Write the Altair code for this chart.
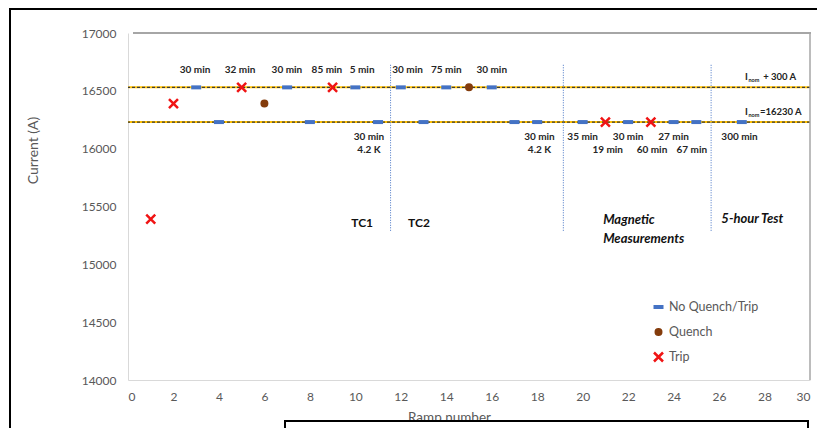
import altair as alt
import pandas as pd

# ---------------- data ----------------
ramp = [1, 2, 3, 4, 5, 6, 7, 8, 9, 10, 11, 12, 13, 14, 15, 16, 17, 18,
        20, 21, 22, 23, 24, 25, 27]
current = [15390, 16390, 16530, 16230, 16530, 16390, 16530, 16230, 16530, 16530,
           16230, 16530, 16230, 16530, 16530, 16530, 16230, 16230,
           16230, 16230, 16230, 16230, 16230, 16230, 16230]
status = ["Trip", "Trip", "No Quench/Trip", "No Quench/Trip", "Trip", "Quench",
          "No Quench/Trip", "No Quench/Trip", "Trip", "No Quench/Trip",
          "No Quench/Trip", "No Quench/Trip", "No Quench/Trip", "No Quench/Trip",
          "Quench", "No Quench/Trip", "No Quench/Trip", "No Quench/Trip",
          "No Quench/Trip", "Trip", "No Quench/Trip", "Trip", "No Quench/Trip",
          "No Quench/Trip", "No Quench/Trip"]

status_domain = ["No Quench/Trip", "Quench", "Trip"]

nominal_levels = [16530, 16230]

divider_x = [11.55, 19.15, 25.65]
divider_top = [16725, 16725, 16725]
divider_bottom = [15280, 15280, 15280]

upper_label_x = [2.95, 4.93, 6.99, 8.75, 10.3, 12.3, 14.0, 16.0]
upper_label_y = [16680] * 8
upper_label_text = ["30 min", "32 min", "30 min", "85 min", "5 min",
                    "30 min", "75 min", "30 min"]

lower1_label_x = [10.6, 18.1, 20.0, 22.0, 24.0, 26.9]
lower1_label_y = [16105] * 6
lower1_label_text = ["30 min", "30 min", "35 min", "30 min", "27 min", "300 min"]

lower2_label_x = [10.6, 18.1, 21.1, 23.05, 24.8]
lower2_label_y = [15990] * 5
lower2_label_text = ["4.2 K", "4.2 K", "19 min", "60 min", "67 min"]

section_x = [10.3, 12.8]
section_y = [15355, 15355]
section_text = ["TC1", "TC2"]

italic_x = [20.9, 20.9, 26.1]
italic_y = [15380, 15215, 15390]
italic_text = ["Magnetic", "Measurements", "5-hour Test"]

inom_x = [27.14, 27.14]
inom_y = [16619, 16317]
inom_rest_x = [27.94, 27.8]
inom_rest_text = ["+ 300 A", "=16230 A"]

x_ticks = list(range(0, 31, 2))
y_ticks = list(range(14000, 17001, 500))

# ---------------- styling helpers ----------------
FONT = "Lato"
GRAY = "#595959"

xscale = alt.Scale(domain=[0, 30], nice=False, zero=False)
yscale = alt.Scale(domain=[14000, 17000], nice=False, zero=False)

xaxis = alt.Axis(values=x_ticks, grid=False, ticks=False, domainColor="#d9d9d9",
                 labelColor=GRAY, labelFont=FONT, labelFontSize=12, labelPadding=11,
                 titleColor=GRAY, titleFont=FONT, titleFontSize=13.5,
                 titleFontWeight="normal", titleX=321, titleY=37,
                 titleBaseline="middle")
yaxis = alt.Axis(values=y_ticks, grid=False, ticks=False, domainColor="#d9d9d9",
                 format="d", labelColor=GRAY, labelFont=FONT, labelFontSize=12,
                 labelPadding=12, titleColor=GRAY, titleFont=FONT, titleFontSize=14,
                 titleFontWeight="normal", titleX=-95, titleY=117,
                 titleBaseline="middle")


def X(field):
    return alt.X(field, type="quantitative", scale=xscale, axis=xaxis, title="Ramp number")


def Y(field):
    return alt.Y(field, type="quantitative", scale=yscale, axis=yaxis, title="Current (A)")


# ---------------- layers ----------------
levels_df = pd.DataFrame({"level": nominal_levels})
hl_base = alt.Chart(levels_df).mark_rule(color="#FFC000", strokeWidth=2).encode(y=Y("level"))
hl_dash = alt.Chart(levels_df).mark_rule(color="#3a3a3a", strokeWidth=1.3,
                                         strokeDash=[3, 2]).encode(y=Y("level"))

div_df = pd.DataFrame({"x": divider_x, "top": divider_top, "bottom": divider_bottom})
dividers = alt.Chart(div_df).mark_rule(color="#4472C4", strokeWidth=1,
                                       strokeDash=[1, 1.5]).encode(
    x=X("x"), y=Y("top"), y2="bottom")

pts_df = pd.DataFrame({"ramp": ramp, "current": current, "status": status})
# shapes are drawn with a 2.5px outline of the same colour, so paths are shrunk
dash_path = "M-0.75,-0.15L0.75,-0.15L0.75,0.15L-0.75,0.15Z"
circle_path = "M0.55,0A0.55,0.55 0 1,1 -0.55,0A0.55,0.55 0 1,1 0.55,0Z"
x_path = "M-0.9,-0.9L0.9,0.9M-0.9,0.9L0.9,-0.9"
colors = ["#4472C4", "#843C0C", "#F01414"]
shapes = [dash_path, circle_path, x_path]

points = alt.Chart(pts_df).mark_point(filled=True, opacity=1, size=100,
                                      strokeWidth=2.5, strokeOpacity=1).encode(
    x=X("ramp"), y=Y("current"),
    fill=alt.Fill("status:N", scale=alt.Scale(domain=status_domain, range=colors),
                  title=None),
    stroke=alt.Stroke("status:N", scale=alt.Scale(domain=status_domain, range=colors),
                      title=None),
    shape=alt.Shape("status:N", scale=alt.Scale(domain=status_domain, range=shapes),
                    title=None),
)


def text_layer(xs, ys, texts, **kw):
    df = pd.DataFrame({"x": xs, "y": ys, "t": texts})
    return alt.Chart(df).mark_text(font=FONT, **kw).encode(x=X("x"), y=Y("y"), text="t:N")


upper = text_layer(upper_label_x, upper_label_y, upper_label_text,
                   fontSize=10, fontWeight="bold", color="#262626")
lower1 = text_layer(lower1_label_x, lower1_label_y, lower1_label_text,
                    fontSize=10, fontWeight="bold", color="#262626")
lower2 = text_layer(lower2_label_x, lower2_label_y, lower2_label_text,
                    fontSize=10, fontWeight="bold", color="#262626")
sections = text_layer(section_x, section_y, section_text,
                      fontSize=12, fontWeight="bold", color="#111111")
italics = text_layer(italic_x, italic_y, italic_text, fontSize=13, fontWeight="bold",
                     fontStyle="italic", color="#111111", align="left")
inom_i = text_layer(inom_x, inom_y, ["I", "I"], fontSize=9.5, fontWeight="bold",
                    color="#222222", align="left")
inom_sub = text_layer(inom_x, inom_y, ["nom", "nom"], fontSize=5.5, fontWeight="bold",
                      color="#222222", align="left", dx=3.5, dy=2.5)
inom_rest = text_layer(inom_rest_x, inom_y, inom_rest_text, fontSize=9.5,
                       fontWeight="bold", color="#222222", align="left")

# ---------------- decoration (frame / page artefacts) ----------------
one = pd.DataFrame({"d": [0]})
top_line = alt.Chart(one).mark_rule(color="#a6a6a6", strokeWidth=2).encode(
    x=alt.value(5), x2=alt.value(683), y=alt.value(0))
right_line = alt.Chart(one).mark_rule(color="#a6a6a6", strokeWidth=1.5).encode(
    x=alt.value(682), y=alt.value(0), y2=alt.value(347))
page_frame = alt.Chart(one).mark_rect(fill="white", fillOpacity=0, stroke="black",
                                      strokeWidth=2).encode(
    x=alt.value(-118), x2=alt.value(760), y=alt.value(-24), y2=alt.value(470))
caption_box = alt.Chart(one).mark_rect(fill="white", stroke="black", strokeWidth=2).encode(
    x=alt.value(157), x2=alt.value(680), y=alt.value(388), y2=alt.value(480))

chart = alt.layer(
    hl_base, hl_dash, dividers, top_line, right_line, points,
    upper, lower1, lower2, sections, italics, inom_i, inom_sub, inom_rest,
    page_frame, caption_box,
).properties(
    width=682, height=347,
    padding={"left": 120, "top": 25, "right": 7, "bottom": 48},
    autosize=alt.AutoSizeParams(type="none"),
    background="white",
).configure_view(stroke=None).configure_legend(
    orient="none", legendX=524, legendY=265, labelFont=FONT, labelFontSize=12.5,
    labelColor=GRAY, rowPadding=7, labelOffset=4, symbolSize=100,
    symbolOpacity=1, symbolStrokeWidth=2.5, clipHeight=18,
)

chart.save("out.html", embed_options={"renderer": "svg", "actions": False})
